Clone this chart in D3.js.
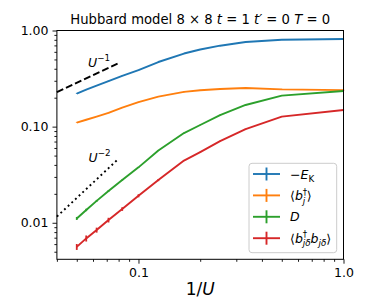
<!DOCTYPE html>
<html>
<head>
<meta charset="utf-8">
<script src="https://cdn.jsdelivr.net/npm/d3@7"></script>
<style>
  body { margin: 0; background: #fff; }
  svg { display: block; font-family: "DejaVu Sans", sans-serif; }
</style>
</head>
<body>
<div id="chart"></div>
<script>
// 1/U values of the simulated points
const invU = [0.05, 0.0556, 0.0625, 0.0714, 0.0833, 0.1, 0.125, 0.1667, 0.2, 0.25, 0.333, 0.5, 1.0];

// -E_K
const kinetic = [0.221, 0.242, 0.267, 0.298, 0.338, 0.388, 0.470, 0.576, 0.634, 0.695, 0.759, 0.802, 0.816];
const kineticErr = [0.002, 0.002, 0.002, 0.002, 0.002, 0.002, 0.002, 0.002, 0.002, 0.002, 0.002, 0.002, 0.002];
// <b_j^dagger>
const bdag = [0.110, 0.118, 0.127, 0.139, 0.158, 0.180, 0.205, 0.230, 0.239, 0.246, 0.252, 0.244, 0.240];
const bdagErr = [0.001, 0.001, 0.001, 0.001, 0.001, 0.001, 0.001, 0.002, 0.002, 0.003, 0.003, 0.003, 0.002];
// D
const doublon = [0.0111, 0.0136, 0.0169, 0.0214, 0.0278, 0.0377, 0.0564, 0.0858, 0.104, 0.132, 0.168, 0.210, 0.235];
const doublonErr = [0.0004, 0.0004, 0.0004, 0.0004, 0.0004, 0.0004, 0.0005, 0.0005, 0.0005, 0.0006, 0.0006, 0.0006, 0.0006];
// <b^dagger_{j delta} b_{j delta}>
const pair = [0.00562, 0.00688, 0.00840, 0.01067, 0.0139, 0.0191, 0.0278, 0.0444, 0.0544, 0.0708, 0.0944, 0.127, 0.149];
const pairErr = [0.0004, 0.0005, 0.0005, 0.0006, 0.0006, 0.0007, 0.0007, 0.0006, 0.0006, 0.0006, 0.0006, 0.0006, 0.0006];

const seriesColors = ['#1f77b4', '#ff7f0e', '#2ca02c', '#d62728'];

// guide lines U^-1 and U^-2
const guideX = [0.04, 0.08];
const guideU1 = [0.229, 0.458];
const guideU2 = [0.0116, 0.0464];

const xTicks = [0.1, 1.0];
const xTickLabels = ['0.1', '1.0'];
const yTicks = [0.01, 0.1, 1.0];
const yTickLabels = ['0.01', '0.10', '1.00'];

const WIDTH = 382;
const HEIGHT = 305;
const FONT = 12.5;
const plot = { left: 56.9, right: 343.5, top: 30.5, bottom: 259.3 };

const svg = d3.select('#chart')
  .append('svg')
  .attr('width', WIDTH)
  .attr('height', HEIGHT);

const x = d3.scaleLog()
  .domain([0.04, 1.0])
  .range([plot.left, plot.right]);

const y = d3.scaleLog()
  .domain([0.00417, 1.0])
  .range([plot.bottom, plot.top]);

// write a label made of pieces: [text, kind, dx]
// kind = '', 'i', 'sub', 'subi', 'sup', 'supi'
function richText(sel, parts, size) {
  let shift = 0;
  parts.forEach(([str, kind, dx]) => {
    const t = sel.append('tspan').text(str);
    let target = 0;
    if (kind.startsWith('sub')) target = size * 0.3;
    if (kind.startsWith('sup')) target = -size * 0.42;
    t.attr('dy', target - shift);
    if (dx) t.attr('dx', dx);
    shift = target;
    if (kind.startsWith('sub') || kind.startsWith('sup')) t.attr('font-size', size * 0.7);
    if (kind === 'i' || kind.endsWith('i')) t.attr('font-style', 'italic');
  });
}

// minor / major ticks
const minorX = x.ticks().filter((d) => !xTicks.some((m) => Math.abs(m - d) < 1e-9));
const minorY = y.ticks().filter((d) => !yTicks.some((m) => Math.abs(m - d) < 1e-9));

function styleAxis(g) {
  g.select('.domain').remove();
  g.selectAll('line').attr('stroke', '#000').attr('stroke-width', 0.9);
  g.selectAll('text').attr('fill', '#000').attr('font-size', FONT)
    .attr('font-family', '"DejaVu Sans", sans-serif');
}

svg.append('g')
  .attr('transform', `translate(0,${plot.bottom})`)
  .call(d3.axisBottom(x).tickValues(minorX).tickSize(2.5).tickFormat(''))
  .call(styleAxis);
svg.append('g')
  .attr('transform', `translate(0,${plot.bottom})`)
  .call(d3.axisBottom(x).tickValues(xTicks).tickSize(4.4).tickPadding(4)
    .tickFormat((d, i) => xTickLabels[i]))
  .call(styleAxis);
svg.append('g')
  .attr('transform', `translate(${plot.left},0)`)
  .call(d3.axisLeft(y).tickValues(minorY).tickSize(2.5).tickFormat(''))
  .call(styleAxis);
svg.append('g')
  .attr('transform', `translate(${plot.left},0)`)
  .call(d3.axisLeft(y).tickValues(yTicks).tickSize(4.4).tickPadding(4)
    .tickFormat((d, i) => yTickLabels[i]))
  .call(styleAxis);

// data
const series = [
  { values: kinetic, errors: kineticErr },
  { values: bdag, errors: bdagErr },
  { values: doublon, errors: doublonErr },
  { values: pair, errors: pairErr },
];

const line = d3.line()
  .x((d) => x(d[0]))
  .y((d) => y(d[1]));

const dataG = svg.append('g');
series.forEach((s, k) => {
  const pts = invU.map((u, i) => [u, s.values[i], s.errors[i]]);
  const g = dataG.append('g');
  g.selectAll('line')
    .data(pts)
    .enter()
      .append('line')
      .attr('x1', (d) => x(d[0]))
      .attr('x2', (d) => x(d[0]))
      .attr('y1', (d) => y(d[1] - d[2]))
      .attr('y2', (d) => y(d[1] + d[2]))
      .attr('stroke', seriesColors[k])
      .attr('stroke-width', 1.8);
  g.append('path')
    .attr('d', line(pts))
    .attr('fill', 'none')
    .attr('stroke', seriesColors[k])
    .attr('stroke-width', 1.9)
    .attr('stroke-linejoin', 'round');
});

// guide lines
svg.append('path')
  .attr('d', line(guideX.map((u, i) => [u, guideU1[i]])))
  .attr('fill', 'none')
  .attr('stroke', '#000')
  .attr('stroke-width', 1.9)
  .attr('stroke-dasharray', '7,3');

svg.append('path')
  .attr('d', line(guideX.map((u, i) => [u, guideU2[i]])))
  .attr('fill', 'none')
  .attr('stroke', '#000')
  .attr('stroke-width', 1.9)
  .attr('stroke-dasharray', '1.9,3.1');

svg.append('text')
  .attr('x', 88)
  .attr('y', 66.5)
  .attr('font-size', FONT)
  .call((t) => richText(t, [['U', 'i'], ['\u22121', 'sup']], FONT));

svg.append('text')
  .attr('x', 88.5)
  .attr('y', 161.5)
  .attr('font-size', FONT)
  .call((t) => richText(t, [['U', 'i'], ['\u22122', 'sup']], FONT));

// frame
svg.append('rect')
  .attr('x', plot.left)
  .attr('y', plot.top)
  .attr('width', plot.right - plot.left)
  .attr('height', plot.bottom - plot.top)
  .attr('fill', 'none')
  .attr('stroke', '#000')
  .attr('stroke-width', 1);

// title
const TITLE = 13.2;
svg.append('text')
  .attr('x', (plot.left + plot.right) / 2)
  .attr('y', 24.3)
  .attr('text-anchor', 'middle')
  .attr('font-size', TITLE)
  .call((t) => richText(t, [
    ['Hubbard model 8 \u00d7 8 ', ''], ['t', 'i'], [' = 1 ', ''],
    ['t\u2032', 'i'], [' = 0 ', ''], ['T', 'i'], [' = 0', ''],
  ], TITLE));

// x label
svg.append('text')
  .attr('x', (plot.left + plot.right) / 2)
  .attr('y', 295)
  .attr('text-anchor', 'middle')
  .attr('font-size', 17)
  .call((t) => richText(t, [['1/', ''], ['U', 'i']], 17));

// legend
const legend = svg.append('g')
  .attr('transform', 'translate(249,163.3)');

legend.append('rect')
  .attr('width', 87.7)
  .attr('height', 89.4)
  .attr('rx', 3)
  .attr('fill', '#fff')
  .attr('fill-opacity', 0.8)
  .attr('stroke', '#ccc')
  .attr('stroke-width', 1);

const legendLabels = [
  [['\u2212', ''], ['E', 'i'], ['K', 'sub']],
  [['\u27e8', ''], ['b', 'i'], ['\u2020', 'sup'], ['j', 'subi', -4.4], ['\u27e9', '', 1.5]],
  [['D', 'i']],
  [['\u27e8', ''], ['b', 'i'], ['\u2020', 'sup'], ['j\u03b4', 'subi', -4.4], ['b', 'i'], ['j\u03b4', 'subi'], ['\u27e9', '']],
];

const legendCell = legend.selectAll('g')
  .data(d3.range(0, 4))
  .enter()
    .append('g')
    .attr('transform', (d) => `translate(0,${10.7 + d * 21.4})`);

legendCell.append('line')
  .attr('x1', 4).attr('x2', 31)
  .attr('stroke', (d) => seriesColors[d])
  .attr('stroke-width', 1.9);

legendCell.append('line')
  .attr('x1', 17.5).attr('x2', 17.5)
  .attr('y1', -6.5).attr('y2', 6.5)
  .attr('stroke', (d) => seriesColors[d])
  .attr('stroke-width', 1.9);

legendCell.append('text')
  .attr('x', 41)
  .attr('y', 4.5)
  .attr('font-size', FONT)
  .each(function (d) { richText(d3.select(this), legendLabels[d], FONT); });
</script>
</body>
</html>
